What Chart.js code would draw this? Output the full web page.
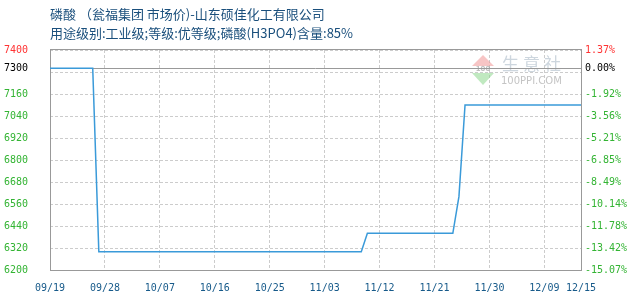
<!DOCTYPE html>
<html>
<head>
<meta charset="utf-8">
<script src="https://cdn.jsdelivr.net/npm/chart.js@4/dist/chart.umd.min.js"></script>
<style>
  html, body { margin: 0; padding: 0; background: #fff; }
  #wrap { width: 630px; height: 300px; position: relative; }
</style>
</head>
<body>
<div id="wrap"><canvas id="c" width="630" height="300"></canvas></div>
<script>
// Titles
const titleText = '磷酸 （瓮福集团 市场价)-山东硕佳化工有限公司';
const subtitleText = '用途级别:工业级;等级:优等级;磷酸(H3PO4)含量:85%';

// Price series (yuan/ton), dated MM/DD
const priceDates = ['09/19', '09/26', '09/27', '11/09', '11/10', '11/24', '11/25', '11/26', '12/15'];
const prices     = [7300,    7300,    6300,    6300,    6400,    6400,    6600,    7100,    7100];

// Reference price for the percentage axis
const basePrice = 7300;

// Axis ticks
const tickDates  = ['09/19', '09/28', '10/07', '10/16', '10/25', '11/03', '11/12', '11/21', '11/30', '12/09', '12/15'];
const priceTicks = [6200, 6320, 6440, 6560, 6680, 6800, 6920, 7040, 7160, 7300, 7400];
const gridOnlyTicks = [7280];
const priceMin = 6200;
const priceMax = 7400;

const year = 2023;
function dayIndex(md) {
  const [m, d] = md.split('/').map(Number);
  const [m0, d0] = tickDates[0].split('/').map(Number);
  return Math.round((Date.UTC(year, m - 1, d) - Date.UTC(year, m0 - 1, d0)) / 86400000);
}

const points = priceDates.map((d, i) => ({ x: dayIndex(d), y: prices[i] }));
const allYTicks = priceTicks.concat(gridOnlyTicks).sort((a, b) => a - b);

function tickColor(v) {
  if (v > basePrice) return '#ff3333';
  if (v === basePrice) return '#000000';
  return '#33b433';
}

const FRAME = '#999999';
const GRID = '#cccccc';

const decor = {
  id: 'decor',
  beforeDatasetsDraw(chart) {
    const { ctx, chartArea: a, scales } = chart;
    ctx.save();
    // watermark
    ctx.fillStyle = 'rgba(240,150,150,0.55)';
    ctx.beginPath();
    ctx.moveTo(483, 55); ctx.lineTo(494, 66); ctx.lineTo(472, 66); ctx.closePath(); ctx.fill();
    ctx.fillStyle = 'rgba(140,215,140,0.55)';
    ctx.beginPath();
    ctx.moveTo(472, 73); ctx.lineTo(494, 73); ctx.lineTo(483, 85); ctx.closePath(); ctx.fill();
    ctx.fillStyle = 'rgba(150,150,150,0.6)';
    ctx.font = 'bold 7px "DejaVu Sans"';
    ctx.textAlign = 'center';
    ctx.textBaseline = 'middle';
    ctx.fillText('100', 483, 69.5);
    ctx.fillStyle = '#cdd6de';
    ctx.font = '17px "Noto Sans CJK SC"';
    ctx.textAlign = 'left';
    ['生', '意', '社'].forEach((ch, i) => ctx.fillText(ch, 502 + i * 21, 64));
    ctx.fillStyle = '#c4c4c4';
    ctx.font = '10px "DejaVu Sans"';
    ctx.fillText('100PPI.COM', 501, 81);

    // base price line
    const yb = Math.round(scales.y.getPixelForValue(basePrice)) + 0.5;
    ctx.strokeStyle = FRAME;
    ctx.lineWidth = 1;
    ctx.beginPath();
    ctx.moveTo(a.left, yb); ctx.lineTo(a.right, yb);
    ctx.stroke();
    // frame
    ctx.strokeRect(Math.round(a.left) + 0.5, Math.round(a.top) - 0.5,
                   Math.round(a.right - a.left), Math.round(a.bottom - a.top) + 1);
    ctx.restore();
  },
  afterDraw(chart) {
    const { ctx } = chart;
    ctx.save();
    ctx.fillStyle = '#1a4f7c';
    ctx.font = '13px "Noto Sans CJK SC"';
    ctx.textAlign = 'left';
    ctx.textBaseline = 'middle';
    ctx.fillText(titleText, 50, 14.5);
    ctx.fillText(subtitleText, 50, 33.5);
    ctx.restore();
  }
};

new Chart(document.getElementById('c'), {
  type: 'line',
  data: {
    datasets: [{
      data: points,
      borderColor: '#3a9ad9',
      borderWidth: 1.5,
      pointRadius: 0,
      tension: 0,
      fill: false
    }]
  },
  options: {
    responsive: false,
    animation: false,
    layout: { padding: { top: 50, left: 0, right: 0, bottom: 0 } },
    plugins: { legend: { display: false }, tooltip: { enabled: false } },
    scales: {
      x: {
        type: 'linear',
        min: dayIndex(tickDates[0]),
        max: dayIndex(tickDates[tickDates.length - 1]),
        afterBuildTicks(axis) { axis.ticks = tickDates.map(d => ({ value: dayIndex(d) })); },
        afterFit(axis) { axis.height = 30; },
        grid: { color: GRID, lineWidth: 1, drawTicks: false },
        border: { display: false, dash: [3, 2] },
        ticks: {
          autoSkip: false,
          maxRotation: 0,
          padding: 12,
          color: '#175a8a',
          font: { family: '"DejaVu Sans Mono"', size: 10 },
          callback: (v, i) => tickDates[i]
        }
      },
      y: {
        type: 'linear',
        position: 'left',
        min: priceMin,
        max: priceMax,
        afterBuildTicks(axis) { axis.ticks = allYTicks.map(v => ({ value: v })); },
        afterFit(axis) { axis.width = 50; },
        grid: {
          drawTicks: false,
          lineWidth: 1,
          color: ctx => (ctx.tick && (ctx.tick.value === basePrice)) ? 'rgba(0,0,0,0)' : GRID
        },
        border: { display: false, dash: [3, 2] },
        ticks: {
          autoSkip: false,
          padding: 22,
          font: { family: '"DejaVu Sans Mono"', size: 10 },
          color: ctx => tickColor(ctx.tick.value),
          callback: v => gridOnlyTicks.includes(v) ? '' : String(v)
        }
      },
      y2: {
        type: 'linear',
        position: 'right',
        min: priceMin,
        max: priceMax,
        afterBuildTicks(axis) { axis.ticks = allYTicks.map(v => ({ value: v })); },
        afterFit(axis) { axis.width = 49; },
        grid: { display: false, drawTicks: false },
        border: { display: false },
        ticks: {
          autoSkip: false,
          padding: 4,
          font: { family: '"DejaVu Sans Mono"', size: 10 },
          color: ctx => tickColor(ctx.tick.value),
          callback: v => gridOnlyTicks.includes(v) ? '' : ((v / basePrice - 1) * 100).toFixed(2) + '%'
        }
      }
    }
  },
  plugins: [decor]
});
</script>
</body>
</html>
